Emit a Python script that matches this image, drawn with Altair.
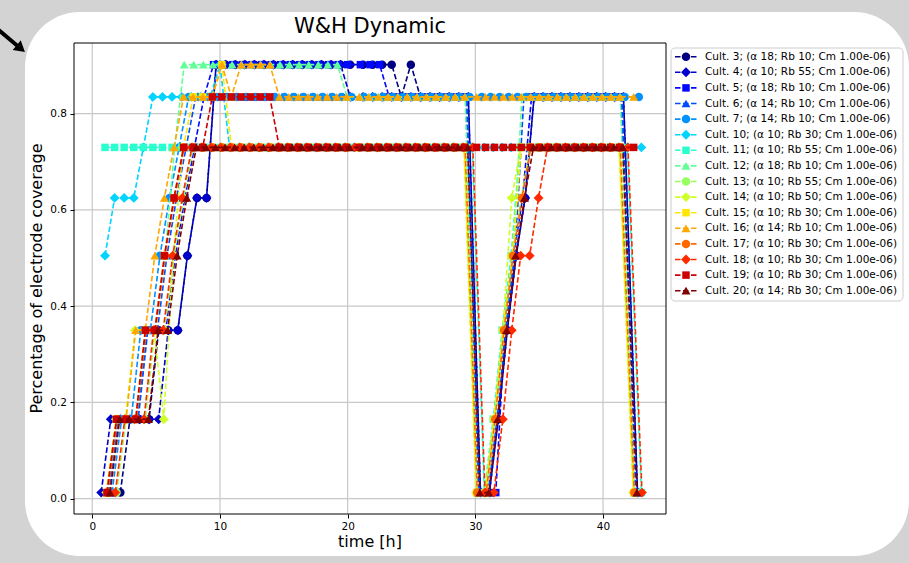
import altair as alt
import pandas as pd

# coverage levels
A = 0.0125
B = 0.165
C = 0.35
D = 0.505
E = 0.625
F = 0.73
G = 0.835
H = 0.902
N = None

# sampling times [h]
hours = [0.6,
         1.35, 2.1, 2.85, 3.6, 4.35, 5.1, 5.85, 6.6, 7.35, 8.1, 8.85, 9.6, 10.35,
         11.1, 11.85, 12.6, 13.35, 14.1, 14.85, 15.6, 16.35, 17.1, 17.85, 18.6, 19.35, 20.1,
         21.1, 21.85, 22.6, 23.35, 24.1, 24.85, 25.6, 26.35, 27.1, 27.85, 28.6, 29.35,
         30.3, 31.0, 31.7, 32.4, 33.1, 33.8, 34.5, 35.2, 35.9, 36.6, 37.3, 38.0, 38.7, 39.4, 40.1, 40.8, 41.5,
         42.6]

series_names = [
    "Cult. 3; (α 18; Rb 10; Cm 1.00e-06)",
    "Cult. 4; (α 10; Rb 55; Cm 1.00e-06)",
    "Cult. 5; (α 18; Rb 10; Cm 1.00e-06)",
    "Cult. 6; (α 14; Rb 10; Cm 1.00e-06)",
    "Cult. 7; (α 14; Rb 10; Cm 1.00e-06)",
    "Cult. 10; (α 10; Rb 30; Cm 1.00e-06)",
    "Cult. 11; (α 10; Rb 55; Cm 1.00e-06)",
    "Cult. 12; (α 18; Rb 10; Cm 1.00e-06)",
    "Cult. 13; (α 10; Rb 55; Cm 1.00e-06)",
    "Cult. 14; (α 10; Rb 50; Cm 1.00e-06)",
    "Cult. 15; (α 10; Rb 30; Cm 1.00e-06)",
    "Cult. 16; (α 14; Rb 10; Cm 1.00e-06)",
    "Cult. 17; (α 10; Rb 30; Cm 1.00e-06)",
    "Cult. 18; (α 10; Rb 30; Cm 1.00e-06)",
    "Cult. 19; (α 10; Rb 30; Cm 1.00e-06)",
    "Cult. 20; (α 14; Rb 30; Cm 1.00e-06)",
]
colors = ["#000080", "#0000cd", "#0008ff", "#004dff", "#0091ff", "#00d4ff", "#29ffce", "#60ff97",
          "#97ff60", "#ceff29", "#ffe600", "#ffa700", "#ff6800", "#ff2900", "#cd0000", "#800000"]
shapes = ["circle", "diamond", "square", "triangle-up", "circle", "diamond", "square", "triangle-up",
          "circle", "diamond", "square", "triangle-up", "circle", "diamond", "square", "triangle-up"]
time_shift = [0.1, 0.1, -0.1, 0.0, 0.2, 0.4, 0.4, -0.15, -0.2, -0.25, -0.2, -0.2, -0.15, 0.45, -0.2, 0.05]

cult3 = [N,
         N, A, B, B, B, C, C, C, D, E, E, H, H, H, H, H, H, H, H, H, H, H, H, H, H, H,
         H, H, H, H, G, H, G, G, G, G, G, G,
         A, A, B, C, D, E, G, G, G, G, G, G, G, G, G, G, G,
         A]
cult4 = [A,
         B, B, B, B, B, B, C, C, D, E, E, H, H, H, H, H, H, H, H, H, H, H, H, H, H, G,
         G, G, G, G, G, G, G, G, G, G, G, G,
         A, A, B, C, D, E, G, G, G, G, G, G, G, G, G, G, G,
         A]
cult5 = [N,
         A, B, B, B, C, C, C, D, E, F, G, H, H, H, H, H, H, H, H, H, H, H, H, H, H, H,
         H, H, H, G, G, G, G, G, G, G, G, G,
         A, A, A, C, D, E, G, G, G, G, G, G, G, G, G, G, G,
         A]
cult6 = [N,
         A, B, B, B, C, C, D, E, F, G, G, G, G, G, G, G, G, G, G, G, G, G, G, G, G, G,
         G, G, G, G, G, G, G, G, G, G, G, G,
         A, A, B, C, D, G, G, G, G, G, G, G, G, G, G, G, G,
         A]
cult7 = [N,
         A, B, B, C, C, D, E, F, G, G, G, G, G, G, G, G, G, G, G, G, G, G, G, G, G, G,
         G, G, G, G, G, G, G, G, G, G, G, G,
         G, G, G, G, G, G, G, G, G, G, G, G, G, G, G, G, G,
         G]
cult10 = [D,
          E, E, E, F, G, G, G, G, G, G, G, H, F, F, F, F, F, F, F, F, F, F, F, F, F, F,
          F, F, F, F, F, F, F, F, F, F, F, F,
          F, F, F, F, F, F, F, F, F, F, F, F, F, F, F, F, F,
          F]
cult11 = [F,
          F, F, F, F, F, F, F, F, F, F, F, F, F, F, F, F, F, F, F, F, F, F, F, F, F, F,
          F, F, F, F, F, F, F, F, F, F, F, F,
          A, B, C, D, F, F, F, F, F, F, F, F, F, F, F, F, F,
          A]
cult12 = [N,
          A, B, B, B, C, C, D, F, H, H, H, H, H, H, H, H, H, H, H, H, H, H, H, H, H, G,
          G, G, G, G, G, G, G, G, G, G, G, G,
          A, A, B, C, D, G, G, G, G, G, G, G, G, G, G, G, G,
          A]
cult13 = [N,
          N, A, B, B, B, C, C, D, E, F, F, F, F, F, F, F, F, F, F, F, F, F, F, F, F, F,
          F, F, F, F, F, F, F, F, F, F, F, F,
          A, A, B, C, D, E, F, F, F, F, F, F, F, F, F, F, F,
          A]
cult14 = [N,
          A, B, B, C, C, C, B, D, F, F, F, F, F, F, F, F, F, F, F, F, F, F, F, F, F, F,
          F, F, F, F, F, F, F, F, F, F, F, F,
          A, A, B, C, E, F, F, F, F, F, F, F, F, F, F, F, F,
          A]
cult15 = [N,
          A, B, B, B, C, C, D, E, F, G, G, G, H, F, F, F, F, F, F, F, F, F, F, F, F, F,
          F, F, F, F, F, F, F, F, F, F, F, F,
          A, A, B, C, D, F, F, F, F, F, F, F, F, F, F, F, F,
          A]
cult16 = [N,
          A, B, B, C, C, D, E, F, G, G, G, G, H, G, H, H, H, H, G, G, G, G, G, G, G, G,
          G, G, G, G, G, G, G, G, G, G, G, G,
          G, G, G, G, G, G, G, G, G, G, G, G, G, G, G, G, G,
          G]
cult17 = [N,
          A, B, B, B, C, C, D, E, F, F, F, F, F, F, F, F, F, F, F, F, F, F, F, F, F, F,
          F, F, F, F, F, F, F, F, F, F, F, F,
          A, A, B, C, D, E, F, F, F, F, F, F, F, F, F, F, F,
          A]
cult18 = [N,
          A, B, B, B, C, C, D, E, F, F, F, F, F, F, F, F, F, F, F, F, F, F, F, F, F, F,
          F, F, F, F, F, F, F, F, F, F, F, F,
          A, A, B, C, D, D, E, F, F, F, F, F, F, F, F, F, F,
          A]
cult19 = [N,
          A, B, B, B, C, C, D, E, F, F, F, G, G, G, G, G, G, G, F, F, F, F, F, F, F, F,
          F, F, F, F, F, F, F, F, F, F, F, F,
          F, F, F, F, F, F, F, F, F, F, F, F, F, F, F, F, F,
          F]
cult20 = [N,
          A, B, B, B, B, C, C, D, E, F, F, F, F, F, F, F, F, F, F, F, F, F, F, F, F, F,
          F, F, F, F, F, F, F, F, F, F, F, F,
          A, A, B, C, D, E, F, F, F, F, F, F, F, F, F, F, F,
          A]

all_values = [cult3, cult4, cult5, cult6, cult7, cult10, cult11, cult12,
              cult13, cult14, cult15, cult16, cult17, cult18, cult19, cult20]

marker_area = {"circle": 72, "diamond": 98, "square": 56, "triangle-up": 80}

rows = []
for sid, vals in enumerate(all_values):
    for j, v in enumerate(vals):
        if v is None or j >= len(hours):
            continue
        rows.append({"sid": sid, "series": series_names[sid], "t": hours[j] + time_shift[sid],
                     "v": v, "msize": marker_area[shapes[sid]]})
df = pd.DataFrame(rows)

x_ticks = [0, 10, 20, 30, 40]
y_ticks = [0.0, 0.2, 0.4, 0.6, 0.8]

W, HT = 592, 471
xs = alt.Scale(domain=[-1.43, 44.93], nice=False, zero=False)
ys = alt.Scale(domain=[-0.032, 0.947], nice=False, zero=False)
cscale = alt.Scale(domain=series_names, range=colors)
sscale = alt.Scale(domain=series_names, range=shapes)

FONT = "DejaVu Sans"
xaxis = alt.Axis(values=x_ticks, format="d", grid=False, domain=False, ticks=True, tickColor="black",
                 tickSize=4, tickWidth=1, labelFontSize=10.5, labelColor="black", labelFont=FONT,
                 labelPadding=3.5, title=None, zindex=1)
yaxis = alt.Axis(values=y_ticks, format=".1f", grid=False, domain=False, ticks=True, tickColor="black",
                 tickSize=4, tickWidth=1, labelFontSize=10.5, labelColor="black", labelFont=FONT,
                 labelPadding=3.5, title=None, zindex=1)

one = pd.DataFrame({"k": [0]})

# decorations
bg = alt.Chart(one).mark_rect(fill="white", cornerRadius=55).encode(
    x=alt.value(-49), x2=alt.value(835), y=alt.value(-31), y2=alt.value(513))
arrow_path = "M-1,-0.1L0.45,-0.1L0.45,-0.32L1,0L0.45,0.32L0.45,0.1L-1,0.1Z"
arrow = alt.Chart(one).mark_point(shape=arrow_path, filled=True, color="black", opacity=1,
                                  size=1521, angle=40).encode(x=alt.value(-64), y=alt.value(-3.5))

gx = alt.Chart(pd.DataFrame({"gx": x_ticks})).mark_rule(color="#c8c8c8", strokeWidth=1.2).encode(
    x=alt.X("gx:Q", scale=xs, axis=xaxis))
gy = alt.Chart(pd.DataFrame({"gy": y_ticks})).mark_rule(color="#c8c8c8", strokeWidth=1.2).encode(
    y=alt.Y("gy:Q", scale=ys, axis=yaxis))

base = alt.Chart(df)
data_layers = []
for sid in range(len(series_names)):
    sub = base.transform_filter(alt.datum.sid == sid)
    enc = dict(x=alt.X("t:Q", scale=xs, axis=xaxis),
               y=alt.Y("v:Q", scale=ys, axis=yaxis),
               color=alt.Color("series:N", scale=cscale, legend=None))
    data_layers.append(sub.mark_line(strokeWidth=1.6, strokeDash=[5.5, 2.5]).encode(**enc))
    data_layers.append(sub.mark_point(filled=True, opacity=1).encode(
        shape=alt.Shape("series:N", scale=sscale, legend=None),
        size=alt.Size("msize:Q", scale=None), **enc))

frame = alt.Chart(one).mark_rect(filled=False, stroke="black", strokeWidth=1).encode(
    x=alt.value(0), x2=alt.value(W), y=alt.value(0), y2=alt.value(HT))

title_t = alt.Chart(pd.DataFrame({"s": ["W&H Dynamic"]})).mark_text(
    fontSize=21, font=FONT, color="black", align="center", baseline="alphabetic").encode(
    x=alt.value(W / 2), y=alt.value(-10), text="s:N")
xlab_t = alt.Chart(pd.DataFrame({"s": ["time [h]"]})).mark_text(
    fontSize=16, font=FONT, color="black", align="center", baseline="alphabetic").encode(
    x=alt.value(W / 2), y=alt.value(504), text="s:N")
ylab_t = alt.Chart(pd.DataFrame({"s": ["Percentage of electrode coverage"]})).mark_text(
    fontSize=16, font=FONT, color="black", align="center", baseline="middle", angle=270).encode(
    x=alt.value(-37), y=alt.value(HT / 2), text="s:N")

main = alt.layer(bg, arrow, gx, gy, *data_layers, frame, title_t, xlab_t, ylab_t)

# legend
leg_df = pd.DataFrame({"row": list(range(len(series_names))), "series": series_names,
                       "msize": [marker_area[s] for s in shapes]})
ly = alt.Y("row:Q", scale=alt.Scale(domain=[0, 15], range=[13.7, 247.7]), axis=None)
leg_box = alt.Chart(one).mark_rect(fill="white", stroke="#cccccc", strokeWidth=1, cornerRadius=4).encode(
    x=alt.value(597), x2=alt.value(829), y=alt.value(5), y2=alt.value(258))
leg_base = alt.Chart(leg_df)
leg_rule = leg_base.mark_rule(strokeWidth=1.6, strokeDash=[5.5, 2.5]).encode(
    x=alt.value(601), x2=alt.value(623), y=ly,
    color=alt.Color("series:N", scale=cscale, legend=None))
leg_pts = leg_base.mark_point(filled=True, opacity=1).encode(
    x=alt.value(612), y=ly,
    color=alt.Color("series:N", scale=cscale, legend=None),
    shape=alt.Shape("series:N", scale=sscale, legend=None),
    size=alt.Size("msize:Q", scale=None))
leg_text = leg_base.mark_text(align="left", baseline="middle", fontSize=10.5, font=FONT, color="black").encode(
    x=alt.value(631), y=ly, text="series:N")
legend = alt.layer(leg_box, leg_rule, leg_pts, leg_text)

chart = alt.layer(main, legend).resolve_scale(y="independent").properties(
    width=W, height=HT,
    autosize=alt.AutoSizeParams(type="none"),
    padding={"left": 74, "top": 43, "right": 243, "bottom": 49},
).configure(background="#d3d3d3").configure_view(stroke=None)

chart.save("out.html", embed_options={"renderer": "svg", "actions": False})
